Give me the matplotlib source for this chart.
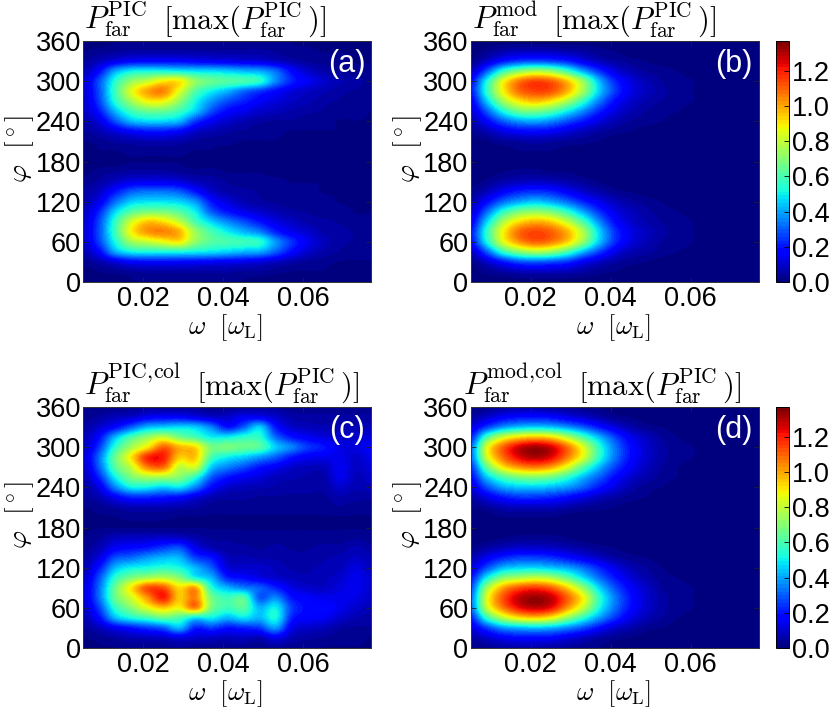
import numpy as np
import matplotlib
matplotlib.use("Agg")
import matplotlib.pyplot as plt

plt.rcParams['font.family'] = ['Liberation Sans', 'DejaVu Sans']
plt.rcParams['mathtext.fontset'] = 'cm'

omega_nodes = [.005, .009, .013, .017, .021, .025, .029, .033, .037, .041, .045, .049, .053, .057, .061, .065, .069, .073, .077]
phi_nodes = [360, 345, 330, 315, 300, 285, 270, 255, 240, 225, 210, 195, 180, 165, 150, 135, 120, 105, 90, 75, 60, 45, 30, 15, 0]

power_a = [
 [.01,.01,.02,.02,.02,.02,.02,.02,.02,.02,.02,.02,.02,.02,.01,.01,.01,.01,.01],
 [.02,.03,.04,.05,.05,.05,.05,.05,.05,.05,.05,.05,.04,.03,.03,.02,.02,.02,.02],
 [.04,.08,.13,.17,.18,.18,.18,.16,.15,.14,.13,.12,.09,.06,.04,.03,.03,.02,.02],
 [.07,.18,.40,.50,.52,.52,.50,.48,.47,.45,.42,.40,.32,.18,.10,.06,.04,.03,.03],
 [.10,.28,.54,.72,.80,.90,.90,.72,.65,.62,.60,.55,.36,.22,.15,.10,.07,.05,.04],
 [.10,.28,.58,.84,1.00,1.05,.85,.62,.50,.42,.32,.25,.18,.12,.09,.07,.05,.04,.03],
 [.09,.26,.54,.74,.88,.88,.72,.52,.38,.28,.22,.16,.12,.09,.07,.05,.04,.03,.03],
 [.08,.20,.42,.58,.65,.65,.58,.45,.28,.18,.14,.10,.08,.06,.05,.04,.03,.03,.02],
 [.06,.12,.28,.42,.46,.46,.42,.25,.15,.10,.07,.05,.04,.04,.03,.03,.02,.02,.02],
 [.04,.07,.12,.17,.20,.20,.17,.10,.07,.05,.04,.03,.03,.02,.02,.02,.02,.01,.01],
 [.02,.03,.05,.06,.07,.07,.06,.04,.03,.03,.02,.02,.02,.01,.01,.01,.01,.01,.01],
 [.01,.02,.02,.03,.03,.03,.03,.02,.02,.01,.01,.01,.01,.01,.01,.01,.01,.01,.01],
 [.01,.01,.01,.02,.02,.02,.02,.01,.01,.01,.01,.01,.01,.01,.01,.01,.01,.01,.01],
 [.01,.03,.04,.05,.05,.05,.04,.03,.03,.02,.02,.02,.01,.01,.01,.01,.01,.01,.01],
 [.03,.05,.09,.13,.14,.14,.12,.08,.06,.04,.03,.03,.03,.02,.02,.02,.02,.02,.01],
 [.05,.09,.20,.30,.33,.33,.30,.20,.10,.06,.05,.04,.03,.03,.03,.02,.02,.02,.02],
 [.06,.14,.32,.45,.48,.48,.46,.38,.20,.12,.07,.05,.04,.03,.03,.03,.02,.02,.02],
 [.08,.22,.46,.62,.68,.68,.62,.50,.30,.20,.14,.10,.07,.05,.04,.03,.03,.02,.02],
 [.09,.27,.56,.82,.95,.92,.80,.60,.46,.36,.28,.20,.13,.09,.06,.05,.04,.03,.03],
 [.10,.28,.58,.88,1.02,1.05,.98,.74,.60,.50,.42,.35,.22,.14,.10,.06,.05,.04,.03],
 [.09,.26,.52,.74,.80,.86,.90,.72,.62,.60,.58,.55,.38,.24,.14,.08,.05,.04,.03],
 [.06,.17,.40,.50,.52,.52,.52,.50,.48,.45,.42,.40,.30,.18,.10,.06,.04,.03,.03],
 [.03,.06,.12,.17,.18,.18,.18,.17,.16,.15,.14,.12,.09,.06,.04,.03,.02,.02,.02],
 [.01,.02,.03,.04,.05,.05,.05,.05,.05,.05,.04,.04,.03,.02,.02,.02,.01,.01,.01],
 [.01,.01,.01,.02,.02,.02,.02,.02,.02,.02,.02,.01,.01,.01,.01,.01,.01,.01,.01],
]

power_b = [
 [.01,.01,.01,.01,.01,.01,.01,.01,.01,.01,.01,.01,.01,.01,.01,.01,.01,.01,.01],
 [.01,.03,.06,.08,.08,.08,.06,.05,.03,.02,.01,.01,.01,.01,.01,.01,.01,.01,.01],
 [.02,.10,.20,.26,.28,.26,.22,.14,.08,.05,.03,.02,.01,.01,.01,.01,.01,.01,.01],
 [.08,.30,.56,.70,.76,.72,.58,.40,.24,.12,.07,.04,.03,.02,.01,.01,.01,.01,.01],
 [.18,.52,.86,1.06,1.14,1.10,.96,.72,.42,.22,.12,.07,.04,.03,.02,.01,.01,.01,.01],
 [.20,.56,.88,1.08,1.14,1.12,.98,.74,.45,.25,.13,.08,.05,.03,.02,.01,.01,.01,.01],
 [.15,.45,.74,.90,.96,.90,.76,.56,.34,.18,.10,.06,.04,.03,.02,.01,.01,.01,.01],
 [.10,.30,.52,.66,.68,.62,.50,.36,.22,.12,.07,.04,.03,.02,.01,.01,.01,.01,.01],
 [.06,.17,.30,.38,.40,.36,.28,.20,.12,.07,.04,.03,.02,.01,.01,.01,.01,.01,.01],
 [.03,.07,.13,.17,.18,.16,.12,.08,.05,.03,.02,.01,.01,.01,.01,.01,.01,.01,.01],
 [.01,.02,.04,.05,.06,.05,.04,.03,.02,.01,.01,.01,.01,.01,.01,.01,.01,.01,.01],
 [.01,.01,.01,.02,.02,.02,.01,.01,.01,.01,.01,.01,.01,.01,.01,.01,.01,.01,.01],
 [.01,.01,.01,.01,.01,.01,.01,.01,.01,.01,.01,.01,.01,.01,.01,.01,.01,.01,.01],
 [.01,.01,.02,.03,.03,.02,.02,.01,.01,.01,.01,.01,.01,.01,.01,.01,.01,.01,.01],
 [.01,.03,.06,.08,.09,.08,.06,.04,.02,.01,.01,.01,.01,.01,.01,.01,.01,.01,.01],
 [.03,.08,.16,.22,.24,.22,.16,.10,.06,.03,.02,.01,.01,.01,.01,.01,.01,.01,.01],
 [.06,.18,.32,.40,.44,.40,.32,.22,.14,.08,.05,.03,.02,.01,.01,.01,.01,.01,.01],
 [.10,.32,.55,.68,.72,.68,.56,.40,.24,.13,.08,.05,.03,.02,.01,.01,.01,.01,.01],
 [.15,.46,.76,.92,.98,.94,.80,.60,.36,.18,.10,.06,.04,.03,.02,.01,.01,.01,.01],
 [.20,.56,.88,1.08,1.14,1.10,.98,.76,.46,.24,.13,.08,.05,.03,.02,.01,.01,.01,.01],
 [.18,.52,.84,1.02,1.10,1.06,.94,.72,.44,.23,.12,.07,.04,.03,.02,.01,.01,.01,.01],
 [.08,.30,.56,.70,.76,.72,.60,.42,.26,.13,.07,.05,.03,.02,.01,.01,.01,.01,.01],
 [.02,.10,.20,.28,.30,.28,.24,.15,.09,.05,.03,.02,.01,.01,.01,.01,.01,.01,.01],
 [.01,.03,.05,.07,.08,.08,.07,.05,.03,.02,.01,.01,.01,.01,.01,.01,.01,.01,.01],
 [.01,.01,.01,.01,.01,.01,.01,.01,.01,.01,.01,.01,.01,.01,.01,.01,.01,.01,.01],
]

power_c = [
 [.02,.02,.03,.03,.04,.04,.04,.04,.03,.03,.04,.05,.04,.03,.03,.03,.03,.03,.03],
 [.03,.05,.08,.10,.15,.17,.17,.14,.10,.10,.15,.15,.10,.06,.05,.05,.05,.05,.05],
 [.05,.10,.18,.30,.42,.45,.47,.45,.35,.20,.30,.45,.20,.10,.08,.07,.07,.07,.08],
 [.07,.18,.42,.60,.72,.80,.68,.60,.50,.50,.55,.55,.32,.20,.15,.12,.10,.10,.12],
 [.08,.25,.55,.75,.90,1.10,.98,.92,.68,.68,.65,.62,.45,.35,.25,.20,.13,.12,.16],
 [.10,.32,.65,.90,1.18,1.20,.95,.95,.60,.50,.45,.38,.30,.20,.15,.14,.14,.10,.14],
 [.08,.30,.62,.80,1.05,1.08,.80,.82,.45,.35,.28,.20,.15,.10,.08,.08,.15,.09,.12],
 [.06,.22,.50,.68,.75,.75,.70,.55,.30,.20,.15,.12,.08,.07,.06,.06,.14,.08,.10],
 [.05,.13,.35,.50,.50,.45,.48,.35,.18,.10,.08,.07,.06,.05,.05,.05,.10,.07,.08],
 [.04,.07,.15,.22,.22,.20,.18,.12,.07,.05,.05,.04,.04,.04,.04,.04,.06,.05,.05],
 [.02,.03,.05,.07,.07,.07,.06,.05,.03,.03,.03,.03,.03,.03,.03,.03,.04,.03,.03],
 [.02,.02,.02,.03,.03,.03,.02,.02,.02,.02,.02,.02,.02,.02,.02,.02,.02,.02,.02],
 [.02,.02,.02,.02,.02,.02,.02,.02,.02,.02,.02,.02,.02,.02,.02,.02,.02,.02,.02],
 [.02,.04,.08,.09,.09,.10,.09,.06,.04,.04,.03,.03,.03,.03,.03,.03,.03,.04,.03],
 [.03,.07,.15,.18,.20,.25,.28,.14,.07,.05,.05,.04,.05,.04,.04,.05,.05,.07,.05],
 [.05,.12,.28,.32,.38,.42,.42,.26,.20,.08,.07,.06,.06,.05,.05,.06,.07,.09,.07],
 [.06,.20,.42,.50,.52,.55,.52,.42,.30,.12,.10,.10,.08,.06,.06,.07,.08,.12,.08],
 [.08,.28,.55,.68,.75,.78,.70,.52,.42,.22,.18,.13,.10,.08,.07,.08,.10,.14,.10],
 [.10,.32,.65,.90,1.12,1.12,.92,1.00,.55,.42,.35,.30,.22,.13,.10,.09,.12,.14,.10],
 [.10,.32,.65,.82,1.02,1.20,.95,1.05,.68,.58,.62,.30,.36,.20,.16,.14,.14,.13,.09],
 [.08,.26,.55,.70,.85,.95,.88,1.05,.68,.58,.62,.42,.50,.26,.18,.18,.14,.10,.07],
 [.06,.18,.42,.52,.58,.65,.60,.48,.50,.42,.48,.42,.52,.22,.16,.15,.10,.07,.05],
 [.04,.08,.15,.20,.25,.30,.42,.22,.25,.20,.22,.25,.38,.14,.10,.08,.05,.04,.04],
 [.02,.03,.05,.07,.08,.09,.12,.10,.09,.08,.09,.07,.14,.07,.05,.04,.03,.03,.02],
 [.02,.02,.02,.03,.03,.03,.04,.03,.03,.03,.03,.03,.04,.03,.03,.02,.02,.02,.02],
]

power_d = [
 [.02,.03,.05,.06,.06,.05,.04,.03,.02,.01,.01,.01,.01,.01,.01,.01,.01,.01,.01],
 [.05,.10,.16,.19,.20,.18,.14,.10,.06,.03,.02,.01,.01,.01,.01,.01,.01,.01,.01],
 [.12,.26,.38,.44,.46,.44,.38,.30,.20,.12,.06,.03,.02,.01,.01,.01,.01,.01,.01],
 [.22,.60,.82,.92,.96,.92,.78,.60,.42,.26,.14,.08,.04,.02,.01,.01,.01,.01,.01],
 [.32,.84,1.10,1.26,1.32,1.26,1.08,.84,.55,.33,.18,.10,.05,.03,.02,.01,.01,.01,.01],
 [.32,.82,1.08,1.24,1.30,1.24,1.06,.84,.55,.33,.18,.10,.05,.03,.02,.01,.01,.01,.01],
 [.24,.64,.90,1.02,1.06,1.00,.84,.62,.42,.26,.15,.08,.04,.02,.01,.01,.01,.01,.01],
 [.18,.44,.60,.68,.70,.66,.56,.42,.30,.18,.10,.06,.03,.02,.01,.01,.01,.01,.01],
 [.12,.28,.40,.44,.45,.42,.38,.30,.20,.12,.06,.03,.02,.01,.01,.01,.01,.01,.01],
 [.05,.13,.20,.24,.24,.22,.18,.13,.08,.05,.03,.02,.01,.01,.01,.01,.01,.01,.01],
 [.02,.04,.07,.08,.08,.08,.06,.04,.03,.02,.01,.01,.01,.01,.01,.01,.01,.01,.01],
 [.01,.01,.02,.02,.02,.02,.01,.01,.01,.01,.01,.01,.01,.01,.01,.01,.01,.01,.01],
 [.01,.01,.01,.01,.01,.01,.01,.01,.01,.01,.01,.01,.01,.01,.01,.01,.01,.01,.01],
 [.01,.01,.02,.03,.03,.03,.02,.01,.01,.01,.01,.01,.01,.01,.01,.01,.01,.01,.01],
 [.02,.05,.08,.10,.10,.09,.07,.05,.03,.02,.01,.01,.01,.01,.01,.01,.01,.01,.01],
 [.06,.15,.22,.26,.26,.24,.19,.14,.09,.05,.03,.02,.01,.01,.01,.01,.01,.01,.01],
 [.12,.28,.42,.46,.47,.44,.40,.32,.22,.13,.07,.04,.02,.01,.01,.01,.01,.01,.01],
 [.20,.50,.70,.76,.80,.76,.64,.48,.32,.20,.11,.06,.03,.02,.01,.01,.01,.01,.01],
 [.28,.74,1.00,1.12,1.16,1.10,.94,.72,.46,.28,.16,.09,.04,.03,.02,.01,.01,.01,.01],
 [.33,.84,1.12,1.28,1.33,1.28,1.10,.88,.56,.34,.19,.10,.05,.03,.02,.01,.01,.01,.01],
 [.32,.80,1.06,1.22,1.28,1.22,1.02,.80,.52,.32,.18,.10,.05,.03,.02,.01,.01,.01,.01],
 [.22,.56,.78,.90,.94,.88,.72,.55,.38,.24,.13,.07,.04,.02,.01,.01,.01,.01,.01],
 [.12,.26,.38,.42,.44,.42,.36,.28,.18,.10,.06,.03,.02,.01,.01,.01,.01,.01,.01],
 [.05,.10,.15,.18,.18,.17,.13,.09,.05,.03,.02,.01,.01,.01,.01,.01,.01,.01,.01],
 [.02,.03,.05,.06,.06,.05,.04,.03,.02,.01,.01,.01,.01,.01,.01,.01,.01,.01,.01],
]

omega_ticks = [0.02, 0.04, 0.06]
omega_tick_labels = ['0.02', '0.04', '0.06']
phi_ticks = [0, 60, 120, 180, 240, 300, 360]
cbar_ticks = [0.0, 0.2, 0.4, 0.6, 0.8, 1.0, 1.2]
panel_labels = ['(a)', '(b)', '(c)', '(d)']
vmax = 1.37

W, H = 830, 710
FS = 19.5
fig = plt.figure(figsize=(W / 100, H / 100), dpi=100)
cmap = plt.get_cmap('jet', 64)


def px_axes(x0, y0, x1, y1):
    return fig.add_axes([x0 / W, 1 - y1 / H, (x1 - x0) / W, (y1 - y0) / H])


def ftext(x, y, s, **kw):
    fig.text(x / W, 1 - y / H, s, **kw)


def panel(box, data, label, title_l, title_x, title_y, bracket_x, cbar_box=None):
    ax = px_axes(*box)
    dw = omega_nodes[1] - omega_nodes[0]
    dp = phi_nodes[0] - phi_nodes[1]
    im = ax.imshow(data, origin='upper', aspect='auto', cmap=cmap, vmin=0, vmax=vmax,
                   interpolation='catrom',
                   extent=(omega_nodes[0] - dw / 2, omega_nodes[-1] + dw / 2,
                           phi_nodes[-1] - dp / 2, phi_nodes[0] + dp / 2))
    ax.set_xlim(0.005, 0.077)
    ax.set_ylim(0, 360)
    ax.set_xticks(omega_ticks, omega_tick_labels)
    ax.set_yticks(phi_ticks)
    ax.tick_params(direction='in', top=True, right=True, length=3.5, width=0.6,
                   labelsize=FS, pad=3, color='#222222')
    ax.tick_params(axis='y', pad=1.5)
    for s in ax.spines.values():
        s.set_linewidth(0.7)
        s.set_color('#333333')
    ax.set_xlabel(r'$\omega\ \ [\omega_{\rm L}]$', fontsize=19, va='center')
    ax.set_ylabel(r'$\varphi\ \ [^\circ]$', fontsize=20, va='center')
    ax.xaxis.set_label_coords(0.495, -0.19)
    ax.yaxis.set_label_coords(-0.22, 0.552)
    ax.text(0.98, 0.965, label, transform=ax.transAxes, color='white', fontsize=22,
            ha='right', va='top')
    ftext(title_x - 3, title_y, title_l, fontsize=22.5, ha='left', va='baseline')
    ftext(bracket_x - 3, title_y, r'$[\max(P_{\rm far}^{\rm PIC}\,)]$', fontsize=22, ha='left', va='baseline')
    if cbar_box is not None:
        cax = px_axes(*cbar_box)
        cb = fig.colorbar(im, cax=cax, ticks=cbar_ticks)
        cb.ax.tick_params(direction='in', length=3.5, width=0.6, labelsize=FS, pad=2)
        cb.outline.set_linewidth(0.7)
        cb.ax.set_yticklabels(['%.1f' % t for t in cbar_ticks])
    return ax


panel((83, 41, 371, 282), power_a, panel_labels[0],
      r'$P_{\rm far}^{\rm PIC}$', 87, 29, 166)
panel((470.5, 41, 758.5, 282), power_b, panel_labels[1],
      r'$P_{\rm far}^{\rm mod}$', 475, 29, 556, cbar_box=(776, 41, 789, 282))
panel((83, 407, 371, 648), power_c, panel_labels[2],
      r'$P_{\rm far}^{\rm PIC,\!col}$', 87, 395, 199)
panel((470.5, 407, 758.5, 648), power_d, panel_labels[3],
      r'$P_{\rm far}^{\rm mod,\!col}$', 466, 395, 581, cbar_box=(776, 407, 789, 648))

fig.savefig('out.png', dpi=100)
